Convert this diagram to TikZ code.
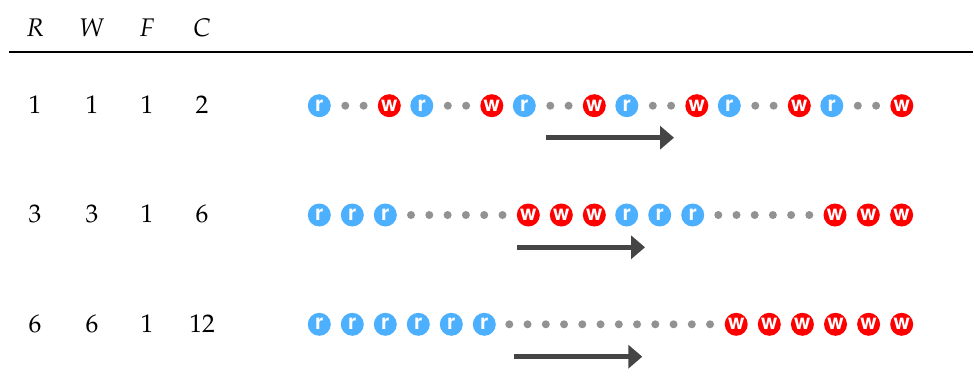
\documentclass[tikz,border=0pt]{standalone}
\usepackage[T1]{fontenc}
\usepackage{mathpazo}
\usepackage[scaled=1.0]{helvet}
\usetikzlibrary{arrows.meta}
\definecolor{rblue}{HTML}{4DB0FF}
\definecolor{wred}{HTML}{FF0000}
\definecolor{dotgray}{HTML}{929292}
\definecolor{arrowgray}{HTML}{454545}
\tikzset{
  rnode/.style={circle,fill=rblue,inner sep=0pt,minimum size=23pt,text=white,font=\sffamily\bfseries\fontsize{21}{21}\selectfont},
  wnode/.style={circle,fill=wred,inner sep=0pt,minimum size=23pt,text=white,font=\sffamily\bfseries\fontsize{21}{21}\selectfont},
  dotnode/.style={circle,fill=dotgray,inner sep=0pt,minimum size=8pt},
  lbl/.style={anchor=base,inner sep=0pt,font=\fontsize{25.5}{30}\selectfont},
  mover/.style={draw=arrowgray,line width=4.7pt,-{Triangle[length=14pt,width=23pt]}},
}
\begin{document}
\begin{tikzpicture}[x=1pt,y=-1pt]
\useasboundingbox (0,0) rectangle (974,389);
% header
\node[lbl] (hR) at (35,36) {$R$};
\node[lbl] (hW) at (92,36) {$W$};
\node[lbl] (hF) at (147,36) {$F$};
\node[lbl] (hC) at (202,36) {$C$};
\coordinate (ruleL) at (9,52);
\coordinate (ruleR) at (973,52);
\draw[line width=1.3pt] (ruleL) -- (ruleR);
% row labels
\foreach \y/\a/\b/\c/\d/\n in {113/1/1/1/2/1, 222.5/3/3/1/6/2, 332.3/6/6/1/12/3}{
  \node[lbl] (R\n) at (35,\y) {\a};
  \node[lbl] (W\n) at (92,\y) {\b};
  \node[lbl] (F\n) at (147,\y) {\c};
  \node[lbl] (C\n) at (202,\y) {\d};
}
% row 1
\foreach \k in {0,...,5}{
  \pgfmathsetmacro{\xr}{319.3+102.5*\k}
  \node[rnode] (ar\k) at (\xr,105.7) {r};
  \node[dotnode] (ad\k a) at (\xr+26,105.7) {};
  \node[dotnode] (ad\k b) at (\xr+44.3,105.7) {};
  \node[wnode] (aw\k) at (\xr+70,105.7) {w};
}
\coordinate (a1s) at (546,137.7);
\coordinate (a1e) at (674,137.7);
\draw[mover] (a1s) -- (a1e);
% row 2
\foreach \k in {0,1,2}{
  \node[rnode] (br\k) at (319.3+33*\k,215) {r};
  \node[wnode] (bw\k) at (528.3+33*\k,215) {w};
  \node[rnode] (bs\k) at (626.7+33*\k,215) {r};
  \node[wnode] (bx\k) at (835+33.3*\k,215) {w};
}
\foreach \j in {0,...,5}{
  \node[dotnode] (bd\j) at (411+18.3*\j,215) {};
  \node[dotnode] (be\j) at (718.3+18.2*\j,215) {};
}
\coordinate (a2s) at (517.3,247.3);
\coordinate (a2e) at (645,247.3);
\draw[mover] (a2s) -- (a2e);
% row 3
\foreach \k in {0,...,5}{
  \node[rnode] (cr\k) at (319.3+33*\k,324.3) {r};
  \node[wnode] (cw\k) at (736.2+33.1*\k,324.3) {w};
}
\foreach \j in {0,...,11}{
  \node[dotnode] (cd\j) at (509.3+18.25*\j,324.3) {};
}
\coordinate (a3s) at (514.3,356.7);
\coordinate (a3e) at (642.3,356.7);
\draw[mover] (a3s) -- (a3e);
\end{tikzpicture}
\end{document}
